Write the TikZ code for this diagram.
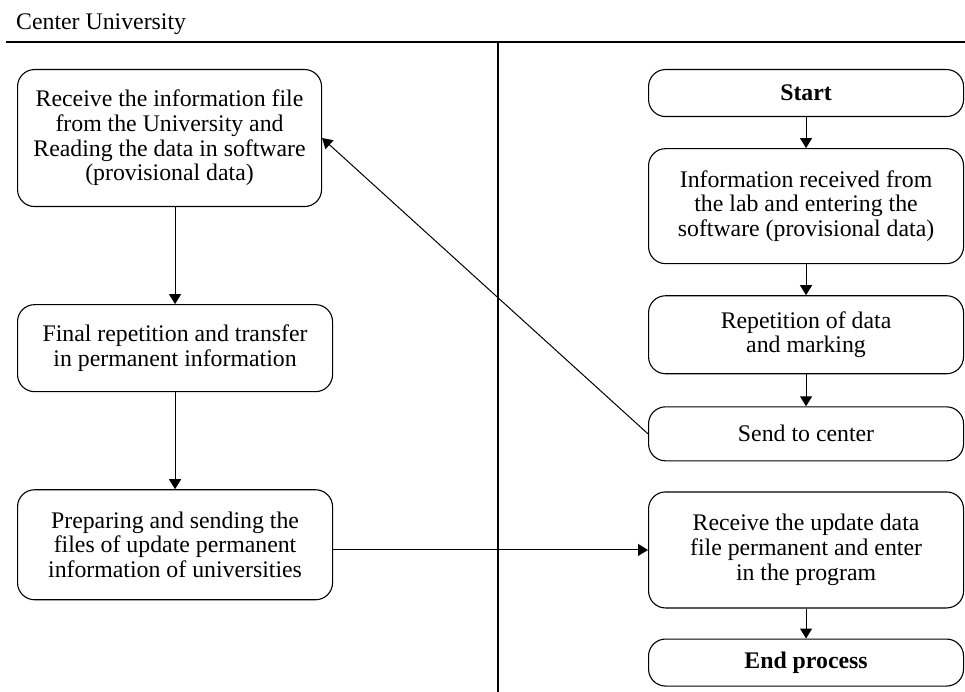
\documentclass[tikz,border=0pt]{standalone}
\usepackage{fontspec}
\setmainfont{Liberation Serif}
\usepackage{tikz}
\usetikzlibrary{shapes,positioning,calc}
\usetikzlibrary{arrows.meta}
\tikzstyle{arrow} = [line width=1pt,-{Triangle[length=10pt,width=12pt]}]

\begin{document}
\begin{tikzpicture}[x=1pt,y=-1pt,font=\fontsize{23.8pt}{24.7pt}\selectfont,
	process/.style={rectangle, draw, line width=1.1pt, rounded corners=17pt, align=center, inner sep=0pt, minimum width=315pt}]
		\useasboundingbox (0,0) rectangle (965,692);
		
			% LANES
			
			\node [anchor=base west, inner sep=0pt] (centertitle) at (16,30) {Center University};
			\coordinate (laneleft) at (6,42);
			\coordinate (laneright) at (965,42);
			\coordinate (lanetop) at (498,42);
			\coordinate (lanebottom) at (498,692);
			\draw [line width=2pt] (laneleft) -- (laneright);
			\draw [line width=1.5pt] (lanetop) -- (lanebottom);
			
			% CENTER
			
			\node [process, minimum width=304pt, minimum height=137pt, anchor=north west] (receive) at (17,69)
			{Receive the information file\\from the University and\\Reading the data in software\\(provisional data)};
			\node [process, minimum height=87pt, below=97pt of receive.south west, anchor=north west] (final)
			{Final repetition and transfer\\in permanent information};
			\node [process, minimum height=110pt, below=97pt of final] (preparing)
			{Preparing and sending the\\files of update permanent\\information of universities};
			
			% UNIVERSITY
			
			\node [process, minimum height=47pt, anchor=north west] (start) at (648,69) {\textbf{Start}};
			\node [process, minimum height=115pt, below=31pt of start] (received)
			{Information received from\\the lab and entering the\\software (provisional data)};
			\node [process, minimum height=78pt, below=31pt of received] (repetition)
			{Repetition of data\\and marking};
			\node [process, minimum height=54pt, below=32pt of repetition] (send) {Send to center};
			\node [process, minimum height=116pt, below=30pt of send] (update)
			{Receive the update data\\file permanent and enter\\in the program};
			\node [process, minimum height=47pt, below=30pt of update] (endprocess) {\textbf{End process}};
			
			% ARROWS
			
			\draw [arrow] (receive.south -| final.north) -- (final.north);
			\draw [arrow] (final) -- (preparing);
			\draw [arrow] (start) -- (received);
			\draw [arrow] (received) -- (repetition);
			\draw [arrow] (repetition) -- (send);
			\draw [arrow] (send.west) -- (receive.east);
			\draw [arrow] (preparing.east |- update.west) -- (update.west);
			\draw [arrow] (update) -- (endprocess);
			
		\end{tikzpicture}
\end{document}
